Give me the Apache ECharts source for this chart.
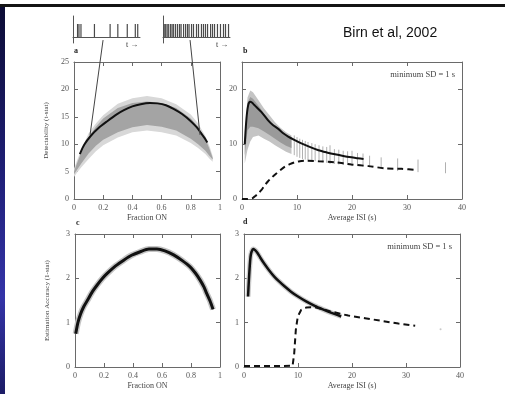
<!DOCTYPE html>
<html><head><meta charset="utf-8">
<script src="https://cdn.jsdelivr.net/npm/echarts@6/dist/echarts.min.js"></script>
<style>html,body{margin:0;padding:0;background:#fff}#c{width:505px;height:394px}</style>
</head><body><div id="c"></div>
<script>
// ---- Panel a: Detectability vs Fraction ON ----
const aBandX   = [0, 0.02, 0.05, 0.1, 0.15, 0.2, 0.3, 0.4, 0.5, 0.6, 0.7, 0.8, 0.85, 0.9, 0.93, 0.95];
const aOuterHi = [5.5, 7, 9, 12, 13.8, 15.3, 17.4, 18.4, 18.8, 18.4, 17.3, 15.4, 13.8, 11.5, 9.5, 7.8];
const aOuterLo = [4, 4.8, 5.8, 7.3, 8.7, 9.8, 11.2, 12.2, 12.5, 12.2, 11.6, 10.2, 9.3, 8.2, 7.3, 6.8];
const aCoreHi  = [5, 6.5, 8.5, 11.3, 13.2, 14.7, 16.6, 17.5, 17.8, 17.5, 16.6, 14.7, 13.2, 11, 9, 7.5];
const aCoreLo  = [4.5, 5.3, 6.5, 8.3, 9.7, 10.8, 12.2, 13.1, 13.5, 13.2, 12.5, 11.0, 10.0, 8.8, 7.8, 7.2];
const aCurveX  = [0.04, 0.07, 0.114, 0.17, 0.228, 0.29, 0.342, 0.40, 0.457, 0.52, 0.571, 0.63, 0.685, 0.74, 0.8, 0.84, 0.868, 0.895, 0.913];
const aCurveY  = [8.2, 9.9, 11.5, 13.0, 14.2, 15.4, 16.2, 16.9, 17.3, 17.5, 17.45, 17.1, 16.4, 15.5, 14.2, 13.1, 12.1, 11.1, 10.3];
const aLinkLeft  = [[0.199, 29.0], [0.11, 11.7]];
const aLinkRight = [[0.795, 29.0], [0.863, 11.7]];

// ---- Panel b: Detectability vs Average ISI ----
const bBandX  = [0.5, 1, 1.5, 2, 3, 4, 5, 6, 7, 8, 9];
const bBandHi = [12.3, 18.5, 19.8, 19.5, 18, 16.5, 15.3, 14, 13, 12.2, 11.6];
const bBandLo = [6.5, 9, 10.5, 11.3, 11.6, 11, 10.5, 9.8, 9.2, 8.6, 8.2];
const bCoreHi = [11, 17.5, 18.6, 18.3, 17, 15.6, 14.4, 13.2, 12.3, 11.6, 11.0];
const bCoreLo = [8, 12.5, 13.2, 13.2, 12.9, 12.3, 11.7, 11.0, 10.3, 9.7, 9.3];
const bBarX  = [9.5, 10, 10.5, 11, 11.5, 12, 12.7, 13.3, 14, 14.7, 15.4, 16, 16.8, 17.6, 18.4, 19.2, 20, 21, 22, 23.2, 25.3, 28.3, 32, 37];
const bBarHi = [11.6, 11.3, 11.0, 10.8, 10.6, 10.4, 10.2, 10.0, 9.8, 9.6, 9.5, 9.8, 9.1, 9.0, 8.8, 8.7, 8.8, 8.4, 8.3, 7.9, 7.6, 7.4, 7.2, 6.7];
const bBarLo = [8.0, 7.7, 7.5, 7.3, 7.2, 7.1, 7.0, 6.9, 6.8, 6.7, 6.6, 6.4, 6.4, 6.3, 6.2, 6.2, 6.0, 6.0, 5.9, 5.8, 5.5, 5.1, 4.9, 4.7];
const bSolidX = [0.5, 0.7, 0.9, 1.1, 1.3, 1.5, 1.8, 2.2, 2.7, 3.5, 4.7, 5.5, 6.6, 7.5, 8.4, 9.5, 10.8, 12.3, 13.9, 15.4, 16.9, 18.4, 19.9, 21, 22.1];
const bSolidY = [10, 13.2, 15.6, 17, 17.6, 17.75, 17.6, 17.2, 16.7, 15.9, 14.4, 13.6, 12.8, 12.0, 11.4, 10.8, 10.15, 9.5, 8.9, 8.5, 8.15, 7.85, 7.6, 7.45, 7.3];
const bDashX = [0, 1, 1.5, 2, 2.5, 3, 3.5, 4, 4.7, 5.5, 6.3, 7.0, 7.8, 8.7, 9.6, 10.5, 11.7, 13.9, 16.9, 19.9, 23, 26, 29, 31.8];
const bDashY = [0, 0, 0.05, 0.2, 0.6, 1.05, 1.6, 2.3, 3.2, 4.0, 4.7, 5.3, 5.9, 6.35, 6.7, 6.9, 7.0, 6.9, 6.7, 6.3, 6.0, 5.6, 5.5, 5.3];

// ---- Panel c: Estimation accuracy vs Fraction ON ----
const cX = [0.005, 0.02, 0.039, 0.06, 0.085, 0.12, 0.153, 0.19, 0.222, 0.28, 0.336, 0.39, 0.45, 0.51, 0.565, 0.62, 0.68, 0.74, 0.794, 0.83, 0.863, 0.89, 0.908, 0.93, 0.952];
const cY = [0.75, 1.0, 1.2, 1.36, 1.5, 1.7, 1.85, 2.0, 2.11, 2.28, 2.41, 2.52, 2.6, 2.66, 2.66, 2.62, 2.53, 2.4, 2.26, 2.12, 1.96, 1.8, 1.66, 1.5, 1.3];

// ---- Panel d: Estimation accuracy vs Average ISI ----
const dSolidX = [0.75, 0.9, 1.05, 1.2, 1.4, 1.74, 2.1, 2.5, 3.0, 3.7, 4.6, 5.6, 6.5, 7.5, 8.7, 10, 11.5, 13.1, 14.6, 16.2, 18];
const dSolidY = [1.59, 1.95, 2.25, 2.48, 2.6, 2.66, 2.63, 2.57, 2.47, 2.34, 2.19, 2.04, 1.93, 1.82, 1.70, 1.59, 1.48, 1.38, 1.30, 1.22, 1.14];
const dDashX = [0, 3, 6, 9.0, 9.3, 9.6, 9.96, 10.6, 11.5, 13.1, 16.2, 19.3, 22.4, 25.5, 28.6, 31.7];
const dDashY = [0.02, 0.02, 0.02, 0.03, 0.31, 0.84, 1.14, 1.29, 1.34, 1.35, 1.25, 1.16, 1.1, 1.04, 0.98, 0.93];
const dStray = [[36.4, 0.85]];

// ---- Insets: spike trains ----
const spikesSparse = [6.8, 8.9, 11.9, 32, 55.4, 66.9, 81, 93, 96.6];
const spikesDense = [1.8, 4, 6.2, 8.5, 11.4, 13.6, 15.9, 18.8, 21.8, 24.8, 27, 30.7, 33.7, 36.6, 38.9, 42.6, 45.5, 50, 53, 57.4, 60.4, 63.4, 66.5, 71, 73.9, 76.9, 81.3, 85.8, 90.3, 93.3, 97.8];

// ---- Tick labels ----
const fracTicks = [0, 0.2, 0.4, 0.6, 0.8, 1];
const isiTicks = [0, 10, 20, 30, 40];
const aYTicks = [0, 5, 10, 15, 20, 25];
const bYTicks = [0, 10, 20];
const accTicks = [0, 1, 2, 3];

const SERIF = '"Liberation Serif","DejaVu Serif",serif';
const FRAME = '#6a6a6a';

function pair(xs, ys) { return xs.map((x, i) => [x, ys[i]]); }
function fmtFrom(ticks) {
  return v => { for (const t of ticks) if (Math.abs(t - v) < 1e-9) return String(t); return ''; };
}

function xAxes(gi, min, max, interval, name, ticks) {
  return [
    { type: 'value', gridIndex: gi, position: 'bottom', min, max, interval,
      name, nameLocation: 'middle', nameGap: 15,
      nameTextStyle: { fontFamily: SERIF, fontSize: 8, color: '#444' },
      axisLine: { onZero: false, lineStyle: { color: FRAME, width: 1 } },
      axisTick: { inside: true, length: 4, lineStyle: { color: FRAME } },
      axisLabel: { fontFamily: SERIF, fontSize: 8, color: '#555', margin: 5, formatter: fmtFrom(ticks) },
      splitLine: { show: false } },
    { type: 'value', gridIndex: gi, position: 'top', min, max, interval,
      axisLine: { onZero: false, lineStyle: { color: FRAME, width: 1 } },
      axisTick: { inside: true, length: 4, lineStyle: { color: FRAME } },
      axisLabel: { show: false }, splitLine: { show: false } }
  ];
}
function yAxes(gi, min, max, interval, name, ticks) {
  return [
    { type: 'value', gridIndex: gi, position: 'left', min, max, interval,
      name, nameLocation: 'middle', nameGap: 24,
      nameTextStyle: { fontFamily: SERIF, fontSize: 7, color: '#444' },
      axisLine: { show: true, onZero: false, lineStyle: { color: FRAME, width: 1 } },
      axisTick: { show: true, inside: true, length: 4, lineStyle: { color: FRAME } },
      axisLabel: { fontFamily: SERIF, fontSize: 8, color: '#555', margin: 5, formatter: fmtFrom(ticks) },
      splitLine: { show: false } },
    { type: 'value', gridIndex: gi, position: 'right', min, max, interval,
      axisLine: { show: true, onZero: false, lineStyle: { color: FRAME, width: 1 } },
      axisTick: { show: true, inside: true, length: 4, lineStyle: { color: FRAME } },
      axisLabel: { show: false }, splitLine: { show: false } }
  ];
}
function insetX(gi) {
  return { type: 'value', gridIndex: gi, min: 0, max: 100,
    axisLine: { show: true, onZero: true, lineStyle: { color: '#555', width: 1 } },
    axisTick: { show: false }, axisLabel: { show: false }, splitLine: { show: false } };
}
function insetY(gi) {
  return { type: 'value', gridIndex: gi, min: -0.46, max: 1.615,
    axisLine: { show: true, onZero: false, lineStyle: { color: '#555', width: 1 } },
    axisTick: { show: false }, axisLabel: { show: false }, splitLine: { show: false } };
}

function band(xs, hi, lo, color, ai, z) {
  return { type: 'custom', xAxisIndex: ai, yAxisIndex: ai, silent: true, z: z, clip: true,
    data: xs.map((x, i) => [x, hi[i], lo[i]]),
    encode: { x: 0, y: [1, 2] },
    renderItem: function (params, api) {
      if (params.dataIndex !== 0) return null;
      const pts = [];
      for (let i = 0; i < xs.length; i++) pts.push(api.coord([xs[i], hi[i]]));
      for (let i = xs.length - 1; i >= 0; i--) pts.push(api.coord([xs[i], lo[i]]));
      return { type: 'polygon', shape: { points: pts }, style: { fill: color } };
    } };
}
function vbars(xs, hi, lo, color, width, ai, z) {
  return { type: 'custom', xAxisIndex: ai, yAxisIndex: ai, silent: true, z: z,
    data: xs.map((x, i) => [x, hi[i], lo[i]]),
    encode: { x: 0, y: [1, 2] },
    renderItem: function (params, api) {
      const p1 = api.coord([api.value(0), api.value(1)]);
      const p2 = api.coord([api.value(0), api.value(2)]);
      return { type: 'line', shape: { x1: p1[0], y1: p1[1], x2: p2[0], y2: p2[1] },
        style: { stroke: color, lineWidth: width } };
    } };
}
function line(data, ai, color, width, type, z, smooth) {
  return { type: 'line', xAxisIndex: ai, yAxisIndex: ai, data, showSymbol: false, symbol: 'none',
    smooth: smooth === undefined ? 0.25 : smooth, silent: true, z: z || 5,
    lineStyle: { color, width, type: type || 'solid' } };
}

const chart = echarts.init(document.getElementById('c'), null, { renderer: 'canvas' });

const grids = [
  { left: 74, top: 62, width: 146, height: 137 },   // a
  { left: 242, top: 62, width: 220, height: 137 },  // b
  { left: 75, top: 234, width: 145, height: 133 },  // c
  { left: 244, top: 234, width: 216, height: 133 }, // d
  { left: 73, top: 16, width: 67, height: 27 },     // inset sparse
  { left: 163, top: 16, width: 67, height: 27 }     // inset dense
].map(g => Object.assign({ containLabel: false, outerBoundsMode: 'none' }, g));

const xAxis = [].concat(
  xAxes(0, 0, 1, 0.2, 'Fraction ON', fracTicks),
  xAxes(1, 0, 40, 10, 'Average ISI (s)', isiTicks),
  xAxes(2, 0, 1, 0.2, 'Fraction ON', fracTicks),
  xAxes(3, 0, 40, 10, 'Average ISI (s)', isiTicks),
  [insetX(4), insetX(5)]
);
const yAxis = [].concat(
  yAxes(0, 0, 25, 5, 'Detectability (t-stat)', aYTicks),
  yAxes(1, 0, 25, 10, '', bYTicks),
  yAxes(2, 0, 3, 1, 'Estimation Accuracy (1-stat)', accTicks),
  yAxes(3, 0, 3, 1, '', accTicks),
  [insetY(4), insetY(5)]
);

function spikes(ts, ai) {
  return { type: 'custom', xAxisIndex: ai, yAxisIndex: ai, silent: true, z: 5,
    data: ts.map(t => [t, 1]),
    encode: { x: 0, y: 1 },
    renderItem: function (params, api) {
      const p1 = api.coord([api.value(0), 0]);
      const p2 = api.coord([api.value(0), api.value(1)]);
      return { type: 'line', shape: { x1: p1[0], y1: p1[1], x2: p2[0], y2: p2[1] },
        style: { stroke: '#4a4a4a', lineWidth: 1.2 } };
    } };
}

const series = [
  // panel a
  band(aBandX, aOuterHi, aOuterLo, '#d8d8d8', 0, 1),
  band(aBandX, aCoreHi, aCoreLo, '#a4a4a4', 0, 2),
  line(pair(aCurveX, aCurveY), 0, '#111', 2, 'solid', 6),
  Object.assign(line(aLinkLeft, 0, '#444', 1, 'solid', 7, false), { clip: false }),
  Object.assign(line(aLinkRight, 0, '#444', 1, 'solid', 7, false), { clip: false }),
  // panel b
  band(bBandX, bBandHi, bBandLo, '#c4c4c4', 2, 1),
  band(bBandX, bCoreHi, bCoreLo, '#9a9a9a', 2, 2),
  vbars(bBarX, bBarHi, bBarLo, '#b0b0b0', 1, 2, 2),
  line(pair(bSolidX, bSolidY), 2, '#111', 2, 'solid', 6),
  line(pair(bDashX, bDashY), 2, '#111', 2, [6, 4], 6),
  // panel c
  line(pair(cX, cY), 4, '#c4c4c4', 6, 'solid', 4),
  line(pair(cX, cY), 4, '#111', 3, 'solid', 6),
  // panel d
  line(pair(dSolidX, dSolidY), 6, '#cccccc', 5, 'solid', 4),
  line(pair(dSolidX, dSolidY), 6, '#111', 2.5, 'solid', 6),
  line(pair(dDashX, dDashY), 6, '#111', 2, [6, 4], 6, false),
  { type: 'scatter', xAxisIndex: 6, yAxisIndex: 6, data: dStray, symbolSize: 2, silent: true,
    itemStyle: { color: '#bbb' } },
  // insets
  spikes(spikesSparse, 8),
  spikes(spikesDense, 9)
];

const txt = (x, y, s, size, font, extra) => ({
  type: 'text', x, y, silent: true,
  style: Object.assign({ text: s, fontSize: size, fontFamily: font, fill: '#222' }, extra || {})
});

chart.setOption({
  animation: false,
  backgroundColor: '#fff',
  grid: grids,
  xAxis, yAxis, series,
  graphic: [
    { type: 'rect', shape: { x: 0, y: 4, width: 505, height: 3 }, style: { fill: '#141414' }, silent: true },
    { type: 'rect', shape: { x: 0, y: 7, width: 5, height: 387 }, silent: true,
      style: { fill: new echarts.graphic.LinearGradient(0, 0, 0, 1, [
        { offset: 0, color: '#0c0c35' }, { offset: 0.45, color: '#20207a' },
        { offset: 0.75, color: '#3434a8' }, { offset: 1, color: '#1c1c66' }]) } },
    txt(343, 26, 'Birn et al, 2002', 14, '"Liberation Sans",Arial,sans-serif', { fill: '#111' }),
    txt(74, 47, 'a', 8, SERIF, { fontWeight: 'bold' }),
    txt(243, 47, 'b', 8, SERIF, { fontWeight: 'bold' }),
    txt(76, 219, 'c', 8, SERIF, { fontWeight: 'bold' }),
    txt(243, 218, 'd', 8, SERIF, { fontWeight: 'bold' }),
    txt(455, 70, 'minimum SD = 1 s', 8.5, SERIF, { align: 'right', fill: '#444' }),
    txt(452, 242, 'minimum SD = 1 s', 8.5, SERIF, { align: 'right', fill: '#444' }),
    txt(126, 41, 't \u2192', 8, SERIF, { fill: '#333' }),
    txt(216, 41, 't \u2192', 8, SERIF, { fill: '#333' })
  ]
});
</script></body></html>
